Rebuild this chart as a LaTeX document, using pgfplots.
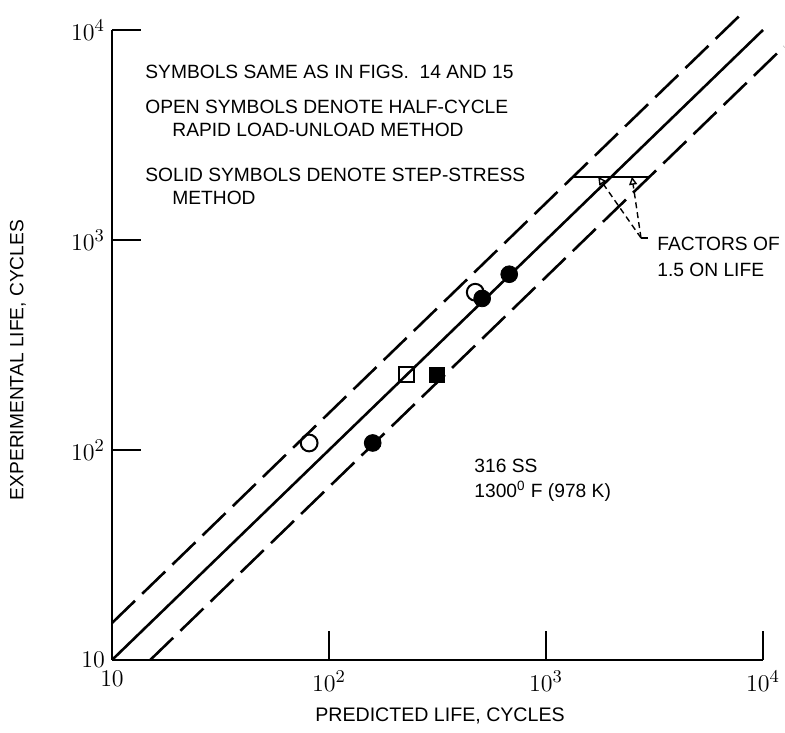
\documentclass[border=0pt]{standalone}
\usepackage{pgfplots}
\pgfplotsset{compat=1.18}
\usepackage{fontspec}
\setmainfont{Liberation Sans}
\usetikzlibrary{arrows.meta}

\begin{document}
\begin{tikzpicture}
% fixed page frame
\path[use as bounding box] (0pt,0pt) rectangle (392.5pt,366pt);

\begin{axis}[
  at={(56pt,36pt)}, anchor=south west,
  scale only axis,
  width=325.5pt, height=315pt,
  xmode=log, ymode=log,
  xmin=10, xmax=10000, ymin=10, ymax=10000,
  axis lines=left,
  axis line style={-, line width=1pt},
  xtick={10,100,1000,10000},
  xticklabels={$10$,$10^2$,$10^3$,$10^4$},
  ytick={10,100,1000,10000},
  yticklabels={$10$,$10^2$,$10^3$,$10^4$},
  xminorticks=false, yminorticks=false,
  tick align=inside,
  major tick length=14.5pt,
  every tick/.style={black, line width=0.9pt},
  tick label style={font=\fontsize{12.5}{14}\selectfont},
  xticklabel style={yshift=-2pt},
  clip=false,
]

% line of perfect agreement and factor-of-1.5 band
\addplot[black, line width=1.3pt] coordinates {(10,10) (10000,10000)};
\addplot[black, line width=1.3pt, dash pattern=on 16pt off 5pt]
  coordinates {(10,15) (8260,12390)};
\addplot[black, line width=1.3pt, dash pattern=on 16pt off 5pt]
  coordinates {(15,10) (12500,8333)};

% half-cycle rapid load-unload (open symbols)
\addplot[only marks, mark=o, mark size=4.2pt, line width=1pt, black, fill=white]
  coordinates {(81,108) (472,564)};
\addplot[only marks, mark=square, mark size=3.8pt, line width=1pt, black, fill=white]
  coordinates {(228,228)};

% step-stress (solid symbols)
\addplot[only marks, mark=*, mark size=4.2pt, black]
  coordinates {(159,108) (508,527) (677,687)};
\addplot[only marks, mark=square*, mark size=3.8pt, black]
  coordinates {(313,228)};

% factor-of-1.5 marker
\addplot[black, line width=1pt] coordinates {(1333,2000) (3000,2000)};
\draw[black, line width=0.7pt, dash pattern=on 3pt off 2pt,
      -{Triangle[open,length=4pt,width=4pt]}]
  (axis cs:2740,1023) -- (axis cs:1740,2000);
\draw[black, line width=0.7pt, dash pattern=on 3pt off 2pt,
      -{Triangle[open,length=4pt,width=4pt]}]
  (axis cs:2740,1023) -- (axis cs:2490,2000);
\draw[black, line width=0.7pt] (axis cs:2740,1023) -- (axis cs:2950,1023);
\end{axis}

\begin{scope}[every node/.style={inner sep=0pt, anchor=west,
    font=\fontsize{9.6}{12}\selectfont}]
\node at (72.5pt,330pt) {SYMBOLS SAME AS IN FIGS.\ \ 14 AND 15};
\node at (72.5pt,312.5pt) {OPEN SYMBOLS DENOTE HALF-CYCLE};
\node at (86pt,301pt) {RAPID LOAD-UNLOAD METHOD};
\node at (72.5pt,278.5pt) {SOLID SYMBOLS DENOTE STEP-STRESS};
\node at (86pt,267pt) {METHOD};
\node at (328.5pt,244pt) {FACTORS OF};
\node at (328.5pt,231pt) {1.5 ON LIFE};
\node at (237pt,133pt) {316 SS};
\node at (237pt,120.5pt) {1300\textsuperscript{0} F (978 K)};
\end{scope}

\node[font=\fontsize{9.8}{12}\selectfont, inner sep=0pt] at (220pt,8pt)
  {PREDICTED LIFE, CYCLES};
\node[font=\fontsize{9.6}{12}\selectfont, inner sep=0pt, rotate=90] at (9pt,186pt)
  {EXPERIMENTAL LIFE, CYCLES};
\end{tikzpicture}
\end{document}
